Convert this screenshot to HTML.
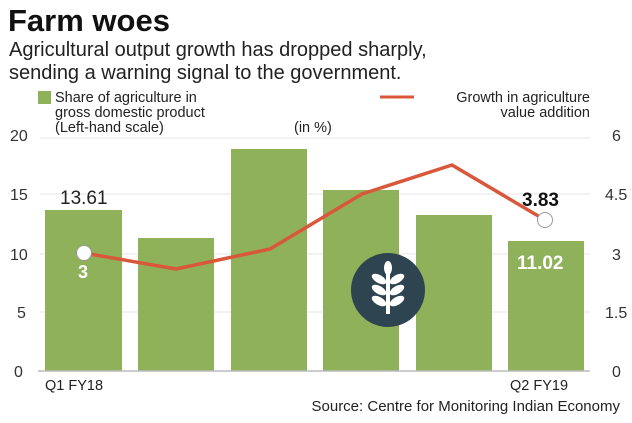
<!DOCTYPE html><html><head><style>body{margin:0;background:#fff}</style></head><body>
<svg width="632" height="418" xmlns="http://www.w3.org/2000/svg" font-family="Liberation Sans, sans-serif">
<text x="8" y="31" font-size="31" font-weight="bold" fill="#111">Farm woes</text>
<text x="9" y="56" font-size="20" fill="#222">Agricultural output growth has dropped sharply,</text>
<text x="9" y="79" font-size="20" fill="#222">sending a warning signal to the government.</text>
<rect x="38" y="91" width="13" height="13" fill="#8fb15a"/>
<g font-size="14.5" fill="#222">
<text x="55" y="102">Share of agriculture in</text>
<text x="55" y="117">gross domestic product</text>
<text x="55" y="132">(Left-hand scale)</text>
<text x="294" y="132">(in %)</text>
<text x="590" y="102" text-anchor="end">Growth in agriculture</text>
<text x="590" y="117" text-anchor="end">value addition</text>
</g>
<line x1="380" y1="97" x2="414" y2="97" stroke="#d9573a" stroke-width="3"/>
<g stroke="#eee" stroke-width="1.5"><line x1="40" y1="138" x2="590" y2="138"/><line x1="40" y1="194" x2="590" y2="194"/><line x1="40" y1="254" x2="590" y2="254"/><line x1="40" y1="312" x2="590" y2="312"/></g>
<g fill="#8fb15a">
<rect x="45" y="210" width="77" height="161"/>
<rect x="138" y="238" width="76" height="133"/>
<rect x="231" y="149" width="76" height="222"/>
<rect x="323" y="190" width="76" height="181"/>
<rect x="416" y="215" width="76" height="156"/>
<rect x="508" y="241" width="76" height="130"/>
</g>
<line x1="38" y1="371" x2="590" y2="371" stroke="#bbb" stroke-width="1.5"/>
<g font-size="16" fill="#333">
<text x="10" y="141">20</text><text x="10" y="200">15</text><text x="10" y="260">10</text><text x="17" y="318">5</text><text x="14" y="377">0</text>
<text x="612" y="141">6</text><text x="605" y="200">4.5</text><text x="612" y="260">3</text><text x="605" y="318">1.5</text><text x="612" y="377">0</text>
</g>
<polyline points="84,253 176,269 270,249 362,194 452,165 545,220" fill="none" stroke="#d9573a" stroke-width="3.5" stroke-linejoin="round"/>
<circle cx="84" cy="253" r="7.5" fill="#fff" stroke="#999" stroke-width="1"/>
<circle cx="545" cy="220" r="7.5" fill="#fff" stroke="#999" stroke-width="1"/>
<text x="60" y="204" font-size="19" fill="#222">13.61</text>
<text x="78" y="278" font-size="18" font-weight="bold" fill="#fff">3</text>
<text x="522" y="206" font-size="19" font-weight="bold" fill="#111">3.83</text>
<text x="517" y="269" font-size="19" font-weight="bold" fill="#fff">11.02</text>
<circle cx="388" cy="290" r="37" fill="#2e4450"/>
<g fill="#fff"><rect x="386" y="270" width="4" height="44"/>
<ellipse cx="388" cy="268" rx="4" ry="7"/>
<ellipse cx="379" cy="279" rx="8" ry="4" transform="rotate(30 379 279)"/><ellipse cx="397" cy="279" rx="8" ry="4" transform="rotate(-30 397 279)"/>
<ellipse cx="379" cy="290" rx="8" ry="4" transform="rotate(30 379 290)"/><ellipse cx="397" cy="290" rx="8" ry="4" transform="rotate(-30 397 290)"/>
<ellipse cx="379" cy="301" rx="8" ry="4" transform="rotate(30 379 301)"/><ellipse cx="397" cy="301" rx="8" ry="4" transform="rotate(-30 397 301)"/></g>
<text x="45" y="390" font-size="14.5" fill="#222">Q1 FY18</text>
<text x="510" y="390" font-size="14.5" fill="#222">Q2 FY19</text>
<text x="620" y="411" font-size="15" fill="#222" text-anchor="end">Source: Centre for Monitoring Indian Economy</text>
</svg></body></html>
